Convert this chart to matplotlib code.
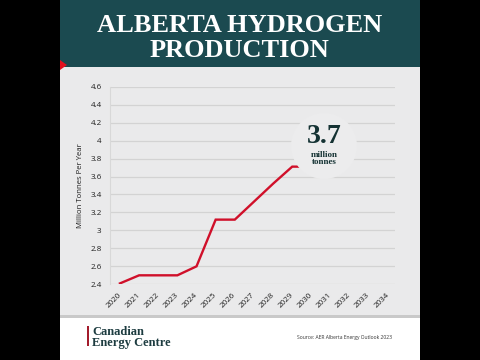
import matplotlib
matplotlib.use("Agg")
import matplotlib.pyplot as plt
from matplotlib.patches import Rectangle, Polygon, Ellipse

# data
years = ['2020', '2021', '2022', '2023', '2024', '2025', '2026', '2027',
         '2028', '2029', '2030', '2031', '2032', '2033', '2034']
production = [2.41, 2.50, 2.50, 2.50, 2.60, 3.12, 3.12, 3.32, 3.52, 3.71, 3.71]
y_ticks = [2.4, 2.6, 2.8, 3.0, 3.2, 3.4, 3.6, 3.8, 4.0, 4.2, 4.4, 4.6]
y_tick_labels = ['2.4', '2.6', '2.8', '3', '3.2', '3.4', '3.6', '3.8', '4', '4.2', '4.4', '4.6']

W, H = 480, 360
TEAL = '#1b4a50'
RED = '#d0102a'
PANEL = '#eaeaeb'

fig = plt.figure(figsize=(4.8, 3.6), dpi=100, facecolor='black')


def px(x, y):
    # pixel coords (top-left origin) -> figure fraction
    return x / W, 1 - y / H


def rect(x0, y0, x1, y1, color, z=-2):
    fx0, fy1 = px(x0, y1)
    fig.patches.append(Rectangle((fx0, fy1), (x1 - x0) / W, (y1 - y0) / H,
                                 transform=fig.transFigure, facecolor=color,
                                 edgecolor='none', zorder=z))


# background blocks
rect(60, 0, 420, 360, 'white', -3)
rect(60, 67, 420, 315, PANEL)
rect(60, 315, 420, 318, '#c9c9c9')
rect(60, 0, 420, 67, TEAL)
fig.patches.append(Polygon([px(60, 60), px(67, 65), px(60, 70)], closed=True,
                           transform=fig.transFigure, facecolor='#e3101e',
                           edgecolor='none', zorder=-1))

# title
fig.text(240 / W, px(0, 32)[1], 'ALBERTA HYDROGEN', color='white',
         family='Liberation Serif', fontweight='bold', fontsize=19,
         ha='center', va='baseline')
fig.text(240 / W, px(0, 57)[1], 'PRODUCTION', color='white',
         family='Liberation Serif', fontweight='bold', fontsize=19,
         ha='center', va='baseline')

# chart
l, b = px(110, 284.3)
r, t = px(395, 86.7)
ax = fig.add_axes([l, b, r - l, t - b])
ax.set_facecolor('none')
x = list(range(len(years)))
ax.plot(x[:len(production)], production, color=RED, lw=1.7,
        solid_joinstyle='miter', zorder=3)
ax.set_xlim(-0.52, 14.37)
ax.set_ylim(2.4, 4.6)
ax.set_yticks(y_ticks)
ax.set_yticklabels(y_tick_labels)
ax.set_xticks(x)
ax.set_xticklabels(years, rotation=45, ha='right', va='center',
                   rotation_mode='anchor')
ax.tick_params(length=0, labelsize=5.8, labelcolor='#1e1e1e')
ax.tick_params(axis='y', pad=6)
ax.tick_params(axis='x', pad=7)
for lab in ax.get_xticklabels() + ax.get_yticklabels():
    lab.set_family('Open Sans')
ax.grid(axis='y', color='#d3d3d3', lw=0.9)
ax.set_axisbelow(True)
for s in ['top', 'right', 'bottom']:
    ax.spines[s].set_visible(False)
ax.spines['left'].set_color('#d8d8d8')
ax.spines['left'].set_linewidth(0.8)
ax.set_ylabel('Million Tonnes Per Year', family='Open Sans', fontsize=5.6,
              color='#1e1e1e', labelpad=4.5)

# end label
cx, cy = px(324, 146)
fig.patches.append(Ellipse((cx, cy), 66 / W, 66 / H, transform=fig.transFigure,
                           facecolor='#ececed', edgecolor='none', zorder=5))
fig.text(cx, px(0, 143)[1], '3.7', color='#143233', family='Liberation Serif',
         fontweight='bold', fontsize=20, ha='center', va='baseline', zorder=6)
fig.text(cx, px(0, 157)[1], 'million', color='#143233', family='Liberation Serif',
         fontweight='bold', fontsize=6.5, ha='center', va='baseline', zorder=6)
fig.text(cx, px(0, 164.5)[1], 'tonnes', color='#143233', family='Liberation Serif',
         fontweight='bold', fontsize=6.5, ha='center', va='baseline', zorder=6)

# footer
rect(86.5, 326, 88.5, 346, '#a31c2c', -1)
fig.text(92 / W, px(0, 335)[1], 'Canadian', color='#1d3c40',
         family='Liberation Serif', fontweight='bold', fontsize=9,
         ha='left', va='baseline')
fig.text(92 / W, px(0, 346)[1], 'Energy Centre', color='#1d3c40',
         family='Liberation Serif', fontweight='bold', fontsize=9,
         ha='left', va='baseline')
fig.text(392 / W, px(0, 338.5)[1], 'Source: AER Alberta Energy Outlook 2023',
         color='#333333', family='Open Sans', fontsize=3.6, ha='right',
         va='baseline')

fig.savefig('out.png', dpi=100, facecolor='black')
